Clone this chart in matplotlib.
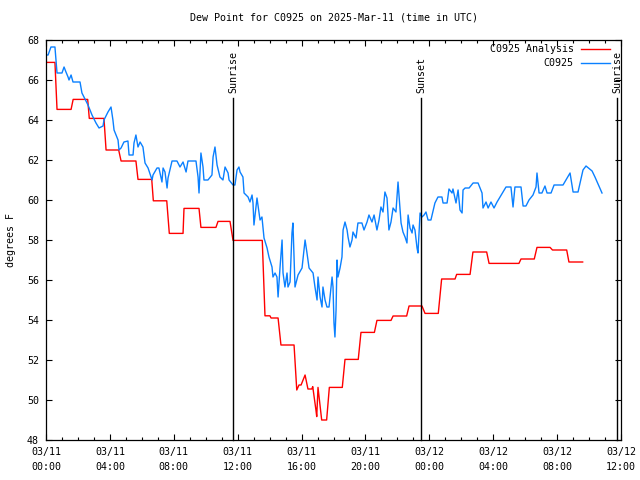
import matplotlib
matplotlib.use("Agg")
import matplotlib.pyplot as plt
from matplotlib.ticker import MultipleLocator
import matplotlib.transforms as mtransforms

# ---- data (hours since 2025-03-11 00:00 UTC) ----
obs_hours = [0.00, 0.13, 0.31, 0.56, 0.69, 1.00, 1.13, 1.25, 1.38, 1.44, 1.57, 1.69, 2.13, 2.25, 2.44, 2.63,
             2.88, 3.13, 3.32, 3.57, 3.63, 3.88, 4.07, 4.19, 4.26, 4.51, 4.57, 4.70, 4.88, 5.13, 5.20, 5.45,
             5.51, 5.63, 5.76, 5.89, 6.07, 6.20, 6.39, 6.64, 6.70, 6.95, 7.07, 7.26, 7.33, 7.45, 7.58, 7.64,
             7.76, 7.89, 8.20, 8.39, 8.58, 8.77, 8.89, 9.39, 9.52, 9.58, 9.70, 9.83, 9.89, 10.14, 10.39, 10.46,
             10.58, 10.71, 10.89, 11.08, 11.21, 11.40, 11.46, 11.71, 11.83, 11.96, 12.08, 12.15, 12.33, 12.40,
             12.65, 12.77, 12.90, 12.96, 13.02, 13.21, 13.40, 13.52, 13.65, 13.84, 13.96, 14.15, 14.21, 14.34,
             14.46, 14.53, 14.65, 14.78, 14.84, 14.96, 15.09, 15.15, 15.28, 15.40, 15.46, 15.53, 15.59, 15.78,
             16.03, 16.22, 16.34, 16.47, 16.72, 16.84, 16.97, 17.03, 17.16, 17.28, 17.34, 17.47, 17.59, 17.72,
             17.91, 17.97, 18.03, 18.09, 18.16, 18.22, 18.28, 18.41, 18.53, 18.60, 18.72, 18.85, 18.91, 19.03,
             19.16, 19.22, 19.41, 19.53, 19.78, 19.91, 20.10, 20.22, 20.41, 20.54, 20.72, 20.85, 20.97, 21.10,
             21.22, 21.35, 21.47, 21.60, 21.73, 21.91, 22.04, 22.16, 22.23, 22.35, 22.48, 22.60, 22.67, 22.79,
             22.92, 22.98, 23.10, 23.23, 23.29, 23.35, 23.42, 23.54, 23.67, 23.79, 23.92, 24.10, 24.35, 24.54,
             24.79, 24.86, 25.11, 25.23, 25.42, 25.48, 25.67, 25.80, 25.92, 26.05, 26.11, 26.24, 26.49, 26.74,
             27.05, 27.30, 27.36, 27.55, 27.68, 27.86, 28.05, 28.24, 28.61, 28.80, 29.11, 29.24, 29.36, 29.74,
             29.87, 30.05, 30.24, 30.49, 30.68, 30.74, 30.87, 31.05, 31.24, 31.37, 31.62, 31.81, 32.37, 32.81,
             33.00, 33.31, 33.62, 33.81, 34.19, 34.37, 34.81]
obs_dewpt = [67.25, 67.25, 67.65, 67.65, 66.35, 66.35, 66.65, 66.40, 66.15, 66.00, 66.25, 65.90, 65.90, 65.35, 65.05, 64.75,
             64.25, 63.85, 63.60, 63.70, 64.00, 64.40, 64.65, 64.00, 63.50, 63.00, 62.50, 62.60, 62.90, 62.95, 62.25, 62.25,
             62.85, 63.25, 62.65, 62.90, 62.65, 61.85, 61.60, 61.00, 61.25, 61.60, 61.60, 60.90, 61.60, 61.40, 60.60, 61.10,
             61.50, 61.95, 61.95, 61.65, 61.90, 61.40, 61.95, 61.95, 61.15, 60.35, 62.35, 61.65, 61.00, 61.00, 61.25, 62.15,
             62.65, 61.75, 61.15, 61.00, 61.65, 61.35, 61.00, 60.75, 60.75, 61.50, 61.65, 61.40, 61.15, 60.35,
             60.15, 59.90, 60.25, 59.85, 58.75, 60.10, 59.00, 59.15, 58.10, 57.60, 57.15, 56.65, 56.15, 56.35,
             56.15, 55.15, 56.60, 58.00, 56.35, 55.65, 56.35, 55.65, 55.90, 58.35, 58.85, 57.15, 55.65, 56.25,
             56.60, 58.00, 57.35, 56.60, 56.35, 55.65, 55.00, 56.15, 55.15, 54.65, 55.65, 55.00, 54.65, 54.65,
             56.15, 55.65, 53.85, 53.15, 54.50, 57.00, 56.15, 56.60, 57.15, 58.50, 58.90, 58.50, 58.15, 57.65,
             58.00, 58.40, 58.10, 58.85, 58.85, 58.50, 58.90, 59.25, 58.90, 59.25, 58.50, 59.00, 59.65, 59.40,
             60.40, 60.10, 58.50, 58.90, 59.60, 59.40, 60.90, 59.60, 58.85, 58.40, 58.15, 57.85, 59.25, 58.60,
             58.35, 58.75, 58.50, 57.60, 57.35, 58.25, 59.35, 59.15, 59.25, 59.40, 59.00, 59.00, 59.85, 60.15,
             60.15, 59.85, 59.85, 60.55, 60.35, 60.55, 59.85, 60.50, 59.50, 59.35, 60.50, 60.60, 60.60, 60.85,
             60.85, 60.35, 59.60, 59.90, 59.60, 59.90, 59.60, 59.90, 60.40, 60.65, 60.65, 59.65, 60.65, 60.65,
             59.70, 59.70, 60.00, 60.25, 60.65, 61.35, 60.35, 60.35, 60.70, 60.35, 60.35, 60.75, 60.75, 61.35,
             60.40, 60.40, 61.50, 61.70, 61.45, 61.15, 60.35]

ana_hours = [0.00, 0.56, 0.69, 1.57, 1.70, 2.61, 2.71, 3.63, 3.76, 4.55, 4.70, 5.63, 5.76, 6.62, 6.72, 7.56,
             7.72, 8.58, 8.64, 9.58, 9.70, 10.64, 10.77, 11.52, 11.71, 13.54, 13.71, 14.02, 14.09, 14.53, 14.71,
             15.53, 15.70, 15.84, 15.97, 16.22, 16.40, 16.64, 16.70, 16.90, 16.95, 17.03, 17.26, 17.57, 17.74,
             18.55, 18.72, 19.55, 19.72, 20.56, 20.72, 21.60, 21.73, 22.58, 22.73, 23.54, 23.73, 24.56, 24.77,
             25.61, 25.71, 26.55, 26.73, 27.59, 27.74, 29.61, 29.74, 30.57, 30.74, 31.56, 31.71, 32.60, 32.74, 33.60]
ana_dewpt = [66.88, 66.88, 64.53, 64.53, 65.03, 65.03, 64.08, 64.08, 62.50, 62.50, 61.95, 61.95, 61.03, 61.03, 59.96, 59.96,
             58.33, 58.33, 59.58, 59.58, 58.63, 58.63, 58.93, 58.93, 57.98, 57.98, 54.21, 54.21, 54.10, 54.10, 52.75,
             52.75, 50.50, 50.75, 50.75, 51.25, 50.55, 50.55, 50.67, 49.50, 49.17, 50.63, 49.00, 49.00, 50.63,
             50.63, 52.03, 52.03, 53.38, 53.38, 53.98, 53.98, 54.20, 54.20, 54.70, 54.70, 54.33, 54.33, 56.05,
             56.05, 56.28, 56.28, 57.40, 57.40, 56.83, 56.83, 57.05, 57.05, 57.63, 57.63, 57.50, 57.50, 56.90, 56.90]

sun_hours = [11.71, 23.48, 35.75]
sun_labels = ["Sunrise", "Sunset", "Sunrise"]

xtick_hours = [0, 4, 8, 12, 16, 20, 24, 28, 32, 36]
xtick_labels = ["03/11\n00:00", "03/11\n04:00", "03/11\n08:00", "03/11\n12:00", "03/11\n16:00",
                "03/11\n20:00", "03/12\n00:00", "03/12\n04:00", "03/12\n08:00", "03/12\n12:00"]

FONT = "DejaVu Sans Mono"
FS = 7.2
plt.rcParams["font.family"] = FONT
plt.rcParams["font.size"] = FS

fig = plt.figure(figsize=(6.4, 4.8), dpi=100)
ax = fig.add_axes([46 / 640, 40 / 480, 575 / 640, 400 / 480])

red = "#ff0000"
blue = "#0a80ff"
ax.plot(ana_hours, ana_dewpt, color=red, lw=1.0)
ax.plot(obs_hours, obs_dewpt, color=blue, lw=1.0)

ax.set_xlim(0, 36)
ax.set_ylim(48, 68)
ax.set_xticks(xtick_hours)
ax.set_xticklabels(xtick_labels, linespacing=1.6)
ax.xaxis.set_minor_locator(MultipleLocator(1))
ax.yaxis.set_major_locator(MultipleLocator(2))
ax.tick_params(axis="both", which="major", direction="in", length=4.5, width=0.8,
               top=True, right=True, labelsize=FS, pad=5)
ax.tick_params(axis="x", which="minor", direction="in", length=2.2, width=0.8, top=True)
for s in ax.spines.values():
    s.set_linewidth(0.9)

ax.set_ylabel("degrees F", fontsize=FS, labelpad=8)
ax.set_title("Dew Point for C0925 on 2025-Mar-11 (time in UTC)", fontsize=FS, pad=14)

trans = mtransforms.blended_transform_factory(ax.transData, ax.transAxes)
for h, lab in zip(sun_hours, sun_labels):
    ax.plot([h, h], [0, 0.855], color="black", lw=1.0, transform=trans, clip_on=False)
    ax.text(h, 0.8675, lab, rotation=90, ha="center", va="bottom", fontsize=FS,
            transform=trans, clip_on=False)

# legend drawn like gnuplot's key
for yy, lab, col in [(0.9775, "C0925 Analysis", red), (0.9425, "C0925", blue)]:
    ax.text(0.918, yy, lab, ha="right", va="center", transform=ax.transAxes, fontsize=FS)
    ax.plot([0.930, 0.981], [yy, yy], color=col, lw=1.0, transform=ax.transAxes)

fig.savefig("out.png", dpi=100)
